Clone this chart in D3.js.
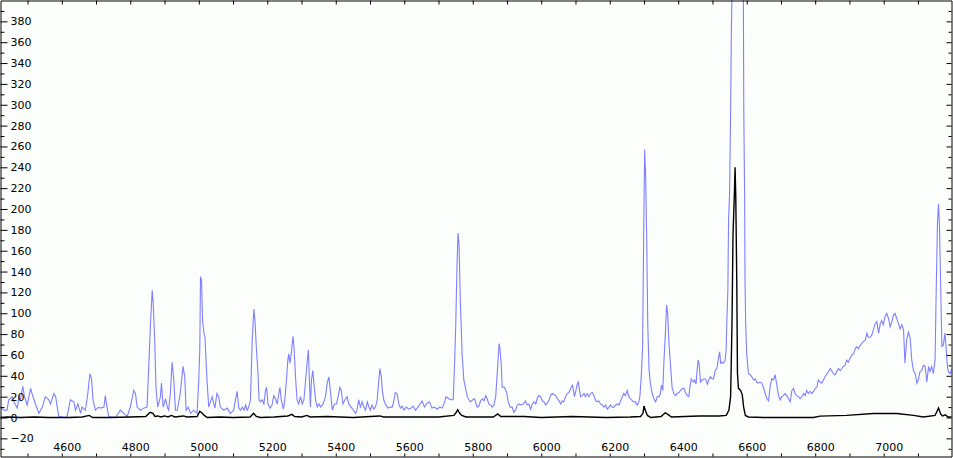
<!DOCTYPE html>
<html>
<head>
<meta charset="utf-8">
<script src="https://cdn.jsdelivr.net/npm/d3@7"></script>
<style>
  body { margin: 0; background: #fcfefc; }
  svg { display: block; }
  .axis text { font-family: "DejaVu Sans", Verdana, sans-serif; font-size: 11px; fill: #000; }
  .axis line, .axis path { stroke: #000; }
</style>
</head>
<body>
<div id="chart"></div>
<script>
// spectrum chart: two series, wavelength (A) vs flux
// blue = scaled spectrum, black = raw spectrum

var blueSpectrum = [
  [4421,10],[4431,7],[4440,7],[4445,17],[4455,20],[4460,15],[4470,9],[4475,20],[4479,17],[4486,30],
  [4491,20],[4499,12],[4509,28],[4513,23],[4523,13],[4533,4],[4543,10],[4552,20],[4562,17],[4567,13],
  [4577,23],[4582,20],[4591,1],[4611,0],[4616,2],[4625,17],[4635,15],[4640,7],[4647,13],[4655,4],
  [4659,10],[4669,7],[4676,23],[4682,42],[4687,37],[4691,17],[4698,7],[4708,10],[4713,9],[4723,10],
  [4727,21],[4732,10],[4737,1],[4757,0],[4771,7],[4781,4],[4791,1],[4800,10],[4810,26],[4815,23],
  [4820,10],[4830,7],[4839,9],[4849,10],[4854,50],[4859,90],[4864,122],[4867,109],[4871,77],[4875,29],
  [4880,10],[4888,20],[4891,33],[4896,10],[4903,18],[4908,10],[4912,7],[4917,23],[4922,53],[4927,36],
  [4932,7],[4937,7],[4946,23],[4954,49],[4959,39],[4963,7],[4969,10],[4976,4],[4985,7],[4995,4],
  [5000,36],[5003,66],[5005,135],[5008,132],[5011,93],[5015,81],[5018,77],[5024,36],[5029,10],[5039,20],
  [5047,9],[5053,23],[5058,20],[5063,10],[5073,7],[5083,9],[5092,4],[5102,7],[5107,17],[5112,25],
  [5117,9],[5122,7],[5127,10],[5132,7],[5137,12],[5141,7],[5146,10],[5151,17],[5156,74],[5159,93],
  [5161,104],[5164,93],[5168,68],[5173,42],[5176,17],[5180,15],[5185,17],[5190,13],[5195,26],[5198,29],
  [5202,13],[5208,9],[5214,12],[5219,21],[5224,18],[5229,13],[5234,23],[5237,29],[5241,17],[5247,8],
  [5250,13],[5256,36],[5260,55],[5263,61],[5266,52],[5270,61],[5275,78],[5278,68],[5283,36],[5287,17],
  [5292,13],[5297,20],[5302,13],[5307,17],[5312,36],[5317,55],[5320,65],[5323,36],[5326,10],[5329,36],
  [5333,45],[5336,33],[5341,17],[5346,10],[5351,13],[5356,10],[5363,13],[5370,20],[5375,33],[5380,39],
  [5385,23],[5390,7],[5396,13],[5402,13],[5407,20],[5412,29],[5416,26],[5421,13],[5427,17],[5433,20],
  [5438,13],[5445,10],[5451,7],[5458,4],[5462,7],[5467,17],[5472,10],[5477,15],[5482,10],[5487,7],
  [5492,15],[5497,10],[5501,7],[5506,12],[5511,8],[5516,10],[5521,17],[5525,33],[5529,47],[5533,39],
  [5536,26],[5540,17],[5545,13],[5552,9],[5560,10],[5565,10],[5570,17],[5574,24],[5579,23],[5584,13],
  [5589,9],[5594,11],[5599,7],[5606,10],[5613,8],[5620,9],[5626,11],[5633,7],[5640,10],[5646,13],
  [5652,16],[5659,10],[5667,14],[5674,15],[5681,9],[5688,10],[5696,8],[5703,10],[5711,9],[5717,14],
  [5722,20],[5730,18],[5737,17],[5743,17],[5747,52],[5750,84],[5754,145],[5757,177],[5760,165],[5764,109],
  [5769,61],[5774,36],[5779,28],[5784,20],[5789,17],[5793,15],[5800,17],[5805,18],[5808,15],[5813,10],
  [5818,11],[5823,16],[5828,18],[5833,16],[5838,21],[5842,18],[5847,13],[5852,12],[5857,10],[5862,12],
  [5867,20],[5872,45],[5877,71],[5879,67],[5883,52],[5886,29],[5893,29],[5899,24],[5903,16],[5909,10],
  [5915,10],[5920,5],[5925,7],[5930,12],[5935,13],[5940,12],[5948,13],[5954,16],[5959,12],[5964,13],
  [5969,8],[5974,13],[5979,15],[5984,13],[5988,18],[5993,21],[5998,20],[6003,16],[6008,15],[6013,12],
  [6018,14],[6022,16],[6027,21],[6032,23],[6037,22],[6042,21],[6047,18],[6052,16],[6057,13],[6061,16],
  [6066,15],[6071,20],[6076,23],[6081,24],[6086,28],[6091,31],[6093,28],[6097,20],[6100,24],[6105,32],
  [6108,34],[6111,28],[6115,20],[6120,21],[6125,23],[6129,20],[6134,23],[6139,20],[6144,23],[6149,24],
  [6154,21],[6159,16],[6164,15],[6168,16],[6173,13],[6178,12],[6183,10],[6188,12],[6193,8],[6198,10],
  [6202,12],[6207,10],[6212,10],[6217,12],[6222,13],[6227,12],[6232,16],[6237,20],[6241,23],[6246,21],
  [6251,26],[6256,20],[6261,18],[6266,16],[6271,15],[6275,15],[6280,12],[6285,15],[6288,20],[6292,39],
  [6296,68],[6299,170],[6302,257],[6305,231],[6308,170],[6311,90],[6315,45],[6319,32],[6324,23],[6329,18],
  [6334,15],[6339,20],[6344,20],[6348,23],[6351,31],[6355,26],[6358,52],[6363,84],[6366,108],[6369,101],
  [6373,71],[6378,48],[6382,29],[6387,23],[6392,21],[6397,23],[6402,24],[6407,26],[6412,28],[6417,28],
  [6421,24],[6426,21],[6431,20],[6434,29],[6438,37],[6444,34],[6448,36],[6452,32],[6455,45],[6458,55],
  [6461,52],[6465,34],[6470,36],[6475,37],[6480,37],[6485,32],[6489,36],[6494,39],[6499,37],[6503,37],
  [6508,45],[6513,47],[6518,58],[6521,63],[6524,52],[6527,53],[6532,52],[6537,55],[6540,65],[6542,93],
  [6545,122],[6547,190],[6550,215],[6553,294],[6555,366],[6558,430],[6566,800],[6578,700],[6590,420],[6591.5,292],
  [6594,210],[6595,132],[6597,90],[6600,61],[6605,42],[6610,41],[6615,39],[6620,36],[6625,37],[6629,34],
  [6634,33],[6639,34],[6644,33],[6649,29],[6654,23],[6659,18],[6664,16],[6668,29],[6673,37],[6678,36],
  [6683,41],[6688,31],[6693,21],[6698,17],[6702,20],[6707,21],[6712,23],[6717,21],[6722,18],[6727,15],
  [6732,26],[6737,28],[6741,23],[6746,21],[6751,20],[6756,18],[6761,20],[6766,23],[6771,21],[6775,26],
  [6780,23],[6785,25],[6790,23],[6795,25],[6800,28],[6805,29],[6809,36],[6814,34],[6819,33],[6824,36],
  [6829,39],[6834,42],[6839,44],[6844,47],[6848,45],[6853,42],[6858,41],[6863,44],[6868,47],[6873,45],
  [6878,47],[6882,49],[6887,50],[6892,55],[6897,53],[6902,57],[6907,60],[6912,61],[6917,66],[6921,68],
  [6926,66],[6931,69],[6936,71],[6941,73],[6946,74],[6951,81],[6955,77],[6960,77],[6965,79],[6970,84],
  [6975,90],[6980,92],[6985,81],[6990,90],[6994,93],[6999,89],[7004,97],[7009,100],[7014,95],[7019,87],
  [7024,92],[7028,98],[7033,100],[7038,95],[7043,90],[7048,85],[7053,89],[7058,84],[7062,52],[7067,74],
  [7072,82],[7077,77],[7082,55],[7087,45],[7092,42],[7097,33],[7101,36],[7106,44],[7111,45],[7116,50],
  [7121,49],[7126,34],[7131,49],[7135,44],[7140,49],[7145,42],[7150,55],[7153,116],[7157,186],[7160,205],
  [7163,183],[7167,116],[7170,68],[7174,69],[7179,81],[7182,68],[7186,49],[7189,44],[7194,42],[7199,47]
];

var blackSpectrum = [
  [4421,0],[4440,0.5],[4480,0],[4520,0.5],[4560,0],[4620,0],[4660,0.5],[4680,2],[4690,0],[4740,0],
  [4800,0.5],[4845,1],[4858,5],[4866,4],[4872,1],[4880,1.5],[4890,0.5],[4900,1.5],[4910,0.5],[4920,2],
  [4930,0.5],[4955,1.5],[4965,0.5],[4995,1],[5003,6],[5010,4],[5016,2],[5025,0],[5060,0.5],[5100,0],
  [5150,0.5],[5160,4],[5168,1],[5180,0],[5220,0.5],[5260,1.5],[5272,3],[5280,1],[5300,0.5],[5316,2],
  [5325,0.5],[5375,1],[5450,0],[5528,1.5],[5540,0.5],[5640,0.5],[5700,0.5],[5745,2],[5752,5],[5756,7.5],
  [5762,4],[5768,2],[5780,0.5],[5860,0.5],[5873,3.5],[5882,1],[5950,1],[6000,0],[6090,1],[6190,0],
  [6260,0.5],[6290,1],[6297,4],[6300,11],[6304,7],[6310,2],[6320,0],[6350,1],[6362,4.5],[6370,3],
  [6380,0.5],[6460,1.5],[6520,1.5],[6540,2],[6548,7],[6553,20],[6557,90],[6560,175],[6564,215],[6566,240],
  [6568,213],[6571,130],[6573,42],[6576,28],[6582,26],[6587,22],[6591,10],[6596,2],[6605,0.5],[6650,0],
  [6700,0],[6795,0],[6814,1.3],[6892,2],[6970,3.8],[7038,3.8],[7087,2],[7116,0.5],[7150,2],[7160,9],
  [7167,3],[7172,1.5],[7180,2.5],[7188,0.5],[7199,0.5]
];

var xDomain = [4421, 7198];
var yDomain = [-37.4, 400];
var xMajor = [4600, 4800, 5000, 5200, 5400, 5600, 5800, 6000, 6200, 6400, 6600, 6800, 7000];

var width = 953;
var height = 458;
var plotRight = 951.5;
var plotBottom = 456.5;

var svg = d3.select("#chart").append("svg")
    .attr("width", width)
    .attr("height", height)
    .style("background", "#fcfefc");

var x = d3.scaleLinear().domain(xDomain).range([0.5, plotRight]);
var y = d3.scaleLinear().domain(yDomain).range([plotBottom, 0.5]);

svg.append("clipPath").attr("id", "plotclip")
    .append("rect")
    .attr("x", 0).attr("y", 0)
    .attr("width", plotRight).attr("height", plotBottom);

var line = d3.line()
    .x(function(d) { return x(d[0]); })
    .y(function(d) { return y(d[1]); });

var plot = svg.append("g").attr("clip-path", "url(#plotclip)");

plot.append("path")
    .datum(blueSpectrum)
    .attr("fill", "none")
    .attr("stroke", "#7f7fff")
    .attr("stroke-width", 1.1)
    .attr("d", line);

plot.append("path")
    .datum(blackSpectrum)
    .attr("fill", "none")
    .attr("stroke", "#000")
    .attr("stroke-width", 1.4)
    .attr("d", line);

// y tick values: labels every 20, minor every 10
var yMajor = d3.range(-20, 400, 20);
var yMinor = d3.range(-30, 400, 10).filter(function(v) { return v % 20 != 0; });
var xTicks = d3.range(4500, 7200, 100);

// left axis (ticks and labels inside)
svg.append("g")
    .attr("class", "axis")
    .attr("transform", "translate(0.5,0)")
    .call(d3.axisRight(y).tickValues(yMajor).tickSize(7).tickSizeOuter(0).tickPadding(3).tickFormat(d3.format("d")));

svg.append("g")
    .attr("class", "axis")
    .attr("transform", "translate(0.5,0)")
    .call(d3.axisRight(y).tickValues(yMinor).tickSize(4).tickSizeOuter(0).tickFormat(""))
    .select(".domain").remove();

// right axis
svg.append("g")
    .attr("class", "axis")
    .attr("transform", "translate(" + plotRight + ",0)")
    .call(d3.axisLeft(y).tickValues(yMajor).tickSize(5).tickSizeOuter(0).tickFormat(""));

svg.append("g")
    .attr("class", "axis")
    .attr("transform", "translate(" + plotRight + ",0)")
    .call(d3.axisLeft(y).tickValues(yMinor).tickSize(3).tickSizeOuter(0).tickFormat(""))
    .select(".domain").remove();

// top axis
svg.append("g")
    .attr("class", "axis")
    .attr("transform", "translate(0,0.5)")
    .call(d3.axisBottom(x).tickValues(xTicks).tickSize(4).tickSizeOuter(0).tickFormat(""));

// bottom axis, labels every 200
var bottom = svg.append("g")
    .attr("class", "axis")
    .attr("transform", "translate(0," + plotBottom + ")")
    .call(d3.axisTop(x).tickValues(xTicks).tickSize(3).tickSizeOuter(0).tickPadding(3)
        .tickFormat(function(d) { return xMajor.indexOf(d) >= 0 ? d : ""; }));

bottom.selectAll("text").attr("dx", 5);
</script>
</body>
</html>
